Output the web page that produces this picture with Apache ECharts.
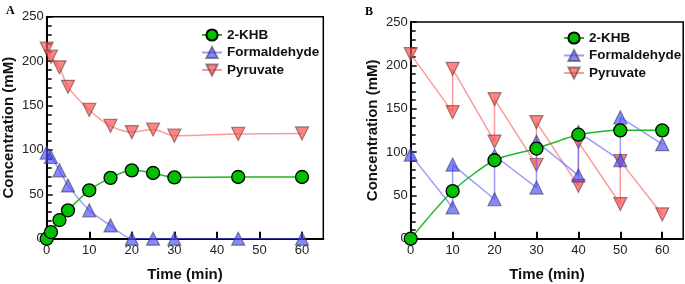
<!DOCTYPE html>
<html>
<head>
<meta charset="utf-8">
<script src="https://cdn.jsdelivr.net/npm/echarts@6/dist/echarts.min.js"></script>
<style>
  html, body { margin: 0; padding: 0; background: #fff; }
  #chart { width: 685px; height: 284px; }
</style>
</head>
<body>
<div id="chart"></div>
<script>
// panel A: batch
var timeA = [0, 1, 3, 5, 10, 15, 20, 25, 30, 45, 60];
var khbA  = [0, 7.5, 21, 32, 54.5, 68.5, 77, 74, 69, 69.5, 69.5];
var formA = [97, 92, 77, 60, 32, 15, 0, 0, 0, 0, 0];
var pyrA  = [214, 205, 193, 171, 145, 127, 120, 123, 116, 118, 118.5];

// panel B: fed-batch (two points at each feeding time)
var timeB     = [0, 10, 20, 30, 40, 50, 60];
var khbB      = [0, 55, 90.5, 104, 120, 125, 125];
var timeFedB  = [0, 10, 10, 20, 20, 30, 30, 40, 40, 50, 50, 60];
var formB     = [97, 36, 85.5, 45.5, 96, 59, 112, 73, 123, 90.5, 140, 109];
var pyrB      = [213, 146, 196, 112, 161, 85, 134.5, 61, 111.5, 40, 89.5, 28];

var xTicks = [0, 10, 20, 30, 40, 50, 60];
var legendNames = ['2-KHB', 'Formaldehyde', 'Pyruvate'];

function pairs(xs, ys) {
    return xs.map(function (x, i) { return [x, ys[i]]; });
}

var font = 'Liberation Sans, Arial, sans-serif';

function xAxisFor(idx) {
    return {
        type: 'value', gridIndex: idx, min: 0, max: 65,
        name: 'Time (min)', nameLocation: 'middle', nameGap: 29,
        nameTextStyle: { fontFamily: font, fontSize: 15, fontWeight: 'bold', color: '#111' },
        axisLine: { show: true, lineStyle: { color: '#000', width: 2 } },
        axisTick: { show: true, inside: true, length: 7, customValues: xTicks, lineStyle: { color: '#000', width: 2 } },
        axisLabel: { customValues: xTicks, margin: 5, fontFamily: font, fontSize: 13, color: '#222' },
        splitLine: { show: false }
    };
}
function yAxisFor(idx) {
    return {
        type: 'value', gridIndex: idx, min: 0, max: 250, interval: 50,
        name: 'Concentration (mM)', nameLocation: 'middle', nameGap: 30,
        nameTextStyle: { fontFamily: font, fontSize: 15, fontWeight: 'bold', color: '#111' },
        axisLine: { show: true, lineStyle: { color: '#000', width: 2 } },
        axisTick: { show: true, inside: true, length: 6, lineStyle: { color: '#000', width: 1.5 } },
        minorTick: { show: true, splitNumber: 5, length: 5, lineStyle: { color: '#000', width: 1.5 } },
        axisLabel: { margin: 3, fontFamily: font, fontSize: 13, color: '#222' },
        splitLine: { show: false }
    };
}

var khbStyle = {
    symbol: 'circle', symbolSize: 13,
    itemStyle: { color: '#00c000', borderColor: '#000', borderWidth: 1.3 },
    lineStyle: { color: '#22b822', width: 1.5 }, z: 5
};
var formStyle = {
    symbol: 'triangle', symbolSize: 13,
    itemStyle: { color: 'rgba(70,70,255,0.65)', borderColor: 'rgba(60,60,90,0.6)', borderWidth: 1.2 },
    lineStyle: { color: 'rgba(90,90,255,0.6)', width: 1.5 }, z: 4
};
var pyrStyle = {
    symbol: 'triangle', symbolRotate: 180, symbolSize: 13,
    itemStyle: { color: 'rgba(255,80,80,0.7)', borderColor: 'rgba(90,60,60,0.6)', borderWidth: 1.2 },
    lineStyle: { color: 'rgba(255,110,110,0.7)', width: 1.5 }, z: 3
};

function line(name, style, data, idx, smooth) {
    return Object.assign({
        name: name, type: 'line', xAxisIndex: idx, yAxisIndex: idx,
        data: data, smooth: smooth, showAllSymbol: true, animation: false
    }, style);
}

function legendAt(left, top) {
    return {
        data: legendNames, orient: 'vertical', left: left, top: top,
        itemWidth: 20, itemHeight: 14, itemGap: 3.5, selectedMode: false,
        textStyle: { fontFamily: font, fontSize: 13.5, fontWeight: 'bold', color: '#111' }
    };
}

var myChart = echarts.init(document.getElementById('chart'));
var option = {
    animation: false,
    title: [
        { text: 'A', left: 1, top: 0, textStyle: { fontFamily: 'Liberation Serif, serif', fontSize: 12, fontWeight: 'bold', color: '#000' } },
        { text: 'B', left: 360, top: 1, textStyle: { fontFamily: 'Liberation Serif, serif', fontSize: 12, fontWeight: 'bold', color: '#000' } }
    ],
    grid: [
        { left: 46.7, top: 16.7, width: 276.6, bottom: 45.3, outerBoundsMode: 'none', show: true, borderColor: '#000', borderWidth: 1.5 },
        { left: 410.7, top: 22, width: 272.5, bottom: 45.3, outerBoundsMode: 'none', show: true, borderColor: '#000', borderWidth: 1.5 }
    ],
    legend: [legendAt(196, 23), legendAt(558, 26)],
    xAxis: [xAxisFor(0), xAxisFor(1)],
    yAxis: [yAxisFor(0), yAxisFor(1)],
    series: [
        line('2-KHB', khbStyle, pairs(timeA, khbA), 0, 0.3),
        line('Formaldehyde', formStyle, pairs(timeA, formA), 0, 0.3),
        line('Pyruvate', pyrStyle, pairs(timeA, pyrA), 0, 0.3),
        line('2-KHB', khbStyle, pairs(timeB, khbB), 1, 0.25),
        line('Formaldehyde', formStyle, pairs(timeFedB, formB), 1, false),
        line('Pyruvate', pyrStyle, pairs(timeFedB, pyrB), 1, false)
    ]
};
myChart.setOption(option);
window.addEventListener('resize', function () {
    myChart.resize();
});
</script>
</body>
</html>
